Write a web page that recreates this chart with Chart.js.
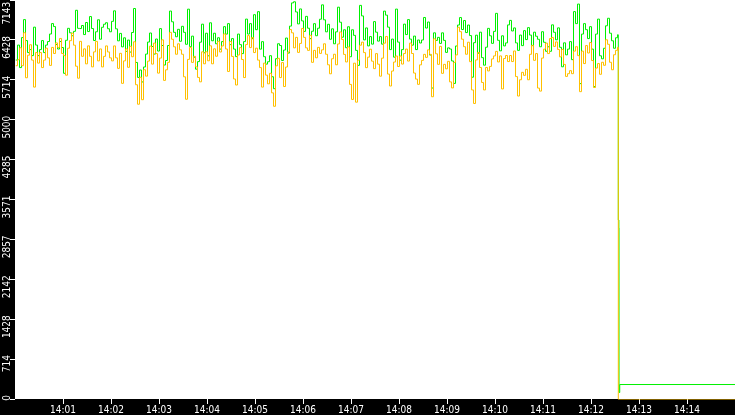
<!DOCTYPE html>
<html>
<head>
<meta charset="utf-8">
<script src="https://cdn.jsdelivr.net/npm/chart.js@4/dist/chart.umd.min.js"></script>
<style>
  html, body { margin: 0; padding: 0; background: #000; }
  #wrap { width: 735px; height: 415px; }
</style>
</head>
<body>
<div id="wrap"><canvas id="rate" width="735" height="415"></canvas></div>
<script>
// seconds after 14:00 between two samples
const sampleStep = 2.5;

const greenValues = [
  6077, 6345, 5942, 6479, 6801, 6425, 6210, 6264, 6156, 6666, 6345, 6156, 6264, 6425, 6210, 6345,
  6408, 6543, 6730, 6676, 6354, 6274, 6408, 6301, 5840, 6431, 6645, 6564, 6512, 6591, 6968, 6645,
  6641, 6695, 6533, 6749, 6587, 6856, 6641, 6427, 6583, 6798, 6450, 6664, 6718, 6745, 6637, 6583,
  6770, 6958, 6635, 6421, 6554, 6313, 6475, 6233, 6435, 6220, 6570, 7000, 6034, 5766, 5899, 5685,
  5953, 6184, 6399, 6561, 6319, 6184, 6453, 6238, 6640, 6337, 5988, 6069, 6337, 6954,
  6762, 6573, 6494, 6627, 6413, 6681, 6573, 6359, 6988, 6317, 6505, 6128, 5914, 6049, 6397, 6719,
  6207, 6557, 6153, 6744, 6422, 6557, 6368, 6476, 6273, 6407, 6675, 6542, 6729, 6353, 6461, 6273,
  6138, 6542, 6353, 6192, 6407, 6810, 6542, 6729, 6460, 6889, 6620, 6943, 6272, 6406, 6137, 6004,
  6047, 6155, 5778, 5564, 6101, 6369, 6337, 6069, 6256, 6471, 6202, 6685, 7100, 7120, 6938, 6724,
  6992, 6778, 6590, 6859, 6647, 6460, 6593, 6728, 6512, 6647, 6808,
  7065, 6797, 6582, 6717, 6449, 6636, 6368, 6582, 7023, 6754, 6486, 6619, 6297, 6673, 6136, 6619,
  6519, 6250, 5982, 7056, 6867, 6438, 6652, 6330, 6497, 6362, 6765, 6576, 6416, 6497, 6362, 6953,
  6881, 6666, 6264, 6452, 6129, 6989, 6398, 6075, 6264, 6720, 6533, 6801, 6452, 6344, 6506, 6264,
  6436, 6382, 6436, 6839, 6650, 6758, 6167, 5576, 6564, 6429, 6483, 6375, 6564, 6429, 6214, 6295,
  6275, 6061, 5659, 6329, 6704, 6838, 6623, 6784, 6569, 6704, 6515,
  5770, 6388, 6522, 6199, 6576, 6120, 5985, 6307, 6644, 6511, 6376, 6590, 6913, 6430, 6242, 6511,
  6330, 6384, 6706, 6787, 6598, 6652, 6384, 6250, 6524, 6335, 6603, 6443, 6657, 6524, 6335, 6576,
  6503, 6449, 6315, 6584, 6395, 6234, 6315, 6234, 6707, 6574, 6439, 6653, 6305, 5956, 6385, 6170,
  6273, 6407, 6084, 6944, 6729, 7079, 5655, 6542, 6729, 6621, 6461, 6675, 6273, 5601, 6542, 6810,
  6153, 6099, 6288, 6690, 6825, 6557, 6422, 6288, 6476, 6530
];

const orangeValues = [
  5975, 6083, 6297, 5975, 6566, 5760, 6164, 6351, 6076, 5593, 6211, 6022, 6211, 5942, 6076, 6290,
  6116, 5981, 6303, 6195, 6384, 6303, 6464, 6195, 6156, 5806, 6289, 6424, 6558, 6343, 5967, 5752,
  6412, 6144, 6277, 6009, 6331, 6144, 5955, 6223, 6411, 6062, 6276, 5954, 6143, 6330, 6222, 6116,
  6062, 6330, 6116, 5928, 6197, 5660, 6062, 6276, 5947, 6323, 6136, 6404, 5635, 5286, 5769, 5367,
  5904, 5789, 6058, 6326, 6004, 6380, 6193, 5843, 6112, 6439, 5713, 5902, 6036, 6573,
  6449, 6314, 6181, 6368, 6260, 6181, 5777, 5375, 6089, 6303, 6035, 6143, 5955, 5766, 5687, 6224,
  6010, 6224, 6064, 6332, 6010, 6278, 6145, 6413, 6221, 6329, 6544, 6275, 5873, 6410, 6142, 5738,
  5630, 6167, 6300, 6086, 5763, 6354, 6515, 6300, 6479, 6211, 6290, 6076, 5942, 5593, 6022, 5807,
  5651, 5840, 5490, 5249, 5973, 6108, 5763, 6032, 5603, 5952, 6221, 6623, 6564, 6295, 6483, 6214,
  6375, 6643, 6483, 6295, 6250, 6519, 6036, 6250, 6117, 6304, 6196,
  6260, 6368, 6181, 5992, 5831, 6100, 6181, 5992, 6365, 6580, 6446, 6178, 6043, 6311, 5641, 5372,
  6021, 5323, 6075, 6343, 6397, 6210, 5941, 6129, 6271, 6057, 5923, 6192, 6003, 5788, 6111, 6379,
  6498, 5826, 5612, 5880, 6041, 6149, 5961, 6149, 6005, 6194, 6273, 6059, 6381, 6194, 5844, 5736,
  5642, 5991, 6071, 6179, 6125, 6260, 6179, 5420, 6457, 6189, 6000, 6322, 5839, 6000, 5920, 6054,
  5686, 5578, 6035, 6169, 6664, 6585, 6450, 6316, 6181, 6396, 6048,
  5542, 5300, 6079, 6213, 5944, 5676, 5542, 5944, 5882, 5963, 6097, 6151, 6232, 6043, 6151, 5560,
  6104, 6158, 6050, 6158, 6050, 6239, 5781, 5433, 5724, 5857, 5803, 5911, 5724, 6180, 6340, 6072,
  6193, 5575, 5521, 6112, 6272, 6380, 6193, 6461, 6482, 6321, 6402, 6267, 6134, 6267, 5999, 5784,
  5833, 5887, 5833, 6237, 6316, 6156, 5511, 6237, 6014, 6336, 6203, 6390, 6068, 5585, 5934, 6014,
  5822, 6037, 5983, 6440, 6359, 6037, 5903, 6172, 6251, 6305
];

// what happens after the last regular sample (seconds after 14:00, value)
const greenTailSeconds = [753.5, 754.2, 754.4, 755.3, 900];
const greenTailValues = [3214, 3071, 125, 268, 268];
const orangeTailSeconds = [753.5, 900];
const orangeTailValues = [0, 0];

const xTickSeconds = [60, 120, 180, 240, 300, 360, 420, 480, 540, 600, 660, 720, 780, 840];
const xTickLabels = ["14:01", "14:02", "14:03", "14:04", "14:05", "14:06", "14:07",
                     "14:08", "14:09", "14:10", "14:11", "14:12", "14:13", "14:14"];
const yTickValues = [0, 714, 1428, 2142, 2857, 3571, 4285, 5000, 5714, 6428, 7143];
const yTickLabels = ["0", "714", "1428", "2142", "2857", "3571", "4285", "5000", "5714", "6428", "7143"];

function toPoints(values, tailSeconds, tailValues) {
    const pts = values.map((v, i) => ({ x: i * sampleStep, y: v }));
    tailSeconds.forEach((s, i) => pts.push({ x: s, y: tailValues[i] }));
    return pts;
}

const plotBackground = {
    id: "plotBackground",
    beforeDraw(chart) {
        const { ctx, chartArea } = chart;
        ctx.save();
        ctx.fillStyle = "#000";
        ctx.fillRect(0, 0, chart.width, chart.height);
        ctx.fillStyle = "#fff";
        ctx.fillRect(chartArea.left, chartArea.top, chartArea.right - chartArea.left, chartArea.bottom - chartArea.top);
        ctx.restore();
    },
    // half pixel shift so the 1px step lines stay sharp
    beforeDatasetsDraw(chart) {
        chart.ctx.save();
        chart.ctx.translate(0.5, 0.5);
    },
    afterDatasetsDraw(chart) {
        chart.ctx.restore();
    }
};

const tickFont = { family: "'DejaVu Sans Condensed', 'DejaVu Sans'", size: 10 };

const context = document.getElementById("rate").getContext("2d");
const chart = new Chart(context, {
    type: "line",
    data: {
        datasets: [{
            label: "orange",
            data: toPoints(orangeValues, orangeTailSeconds, orangeTailValues),
            borderColor: "#ffc000",
            borderWidth: 1,
            pointRadius: 0,
            stepped: true,
            fill: false
        }, {
            label: "green",
            data: toPoints(greenValues, greenTailSeconds, greenTailValues),
            borderColor: "#00f000",
            borderWidth: 1,
            pointRadius: 0,
            stepped: true,
            fill: false
        }]
    },
    options: {
        responsive: false,
        animation: false,
        devicePixelRatio: 1,
        layout: { padding: 0 },
        plugins: { legend: { display: false }, tooltip: { enabled: false } },
        scales: {
            x: {
                type: "linear",
                min: 0,
                max: 900,
                afterBuildTicks: s => { s.ticks = xTickSeconds.map(v => ({ value: v })); },
                afterFit: s => { s.height = 16; s.paddingLeft = 0; s.paddingRight = 0; },
                ticks: {
                    color: "#fff",
                    font: tickFont,
                    autoSkip: false,
                    maxRotation: 0,
                    padding: 0,
                    callback: (v, i) => xTickLabels[i]
                },
                grid: { drawOnChartArea: false, tickLength: 5, color: "#fff" },
                border: { display: false }
            },
            y: {
                min: 0,
                max: 7143,
                afterBuildTicks: s => { s.ticks = yTickValues.map(v => ({ value: v })); },
                afterFit: s => { s.width = 15; s.paddingTop = 0; s.paddingBottom = 0; },
                ticks: {
                    color: "#fff",
                    font: tickFont,
                    autoSkip: false,
                    minRotation: 90,
                    maxRotation: 90,
                    padding: 3,
                    labelOffset: -4,
                    // the top label is kept inside the canvas
                    callback: (v, i) => i === yTickLabels.length - 1 ? yTickLabels[i] + "  " : yTickLabels[i]
                },
                grid: { drawOnChartArea: false, tickLength: 5, color: "#fff" },
                border: { display: false }
            }
        }
    },
    plugins: [plotBackground]
});
</script>
</body>
</html>
